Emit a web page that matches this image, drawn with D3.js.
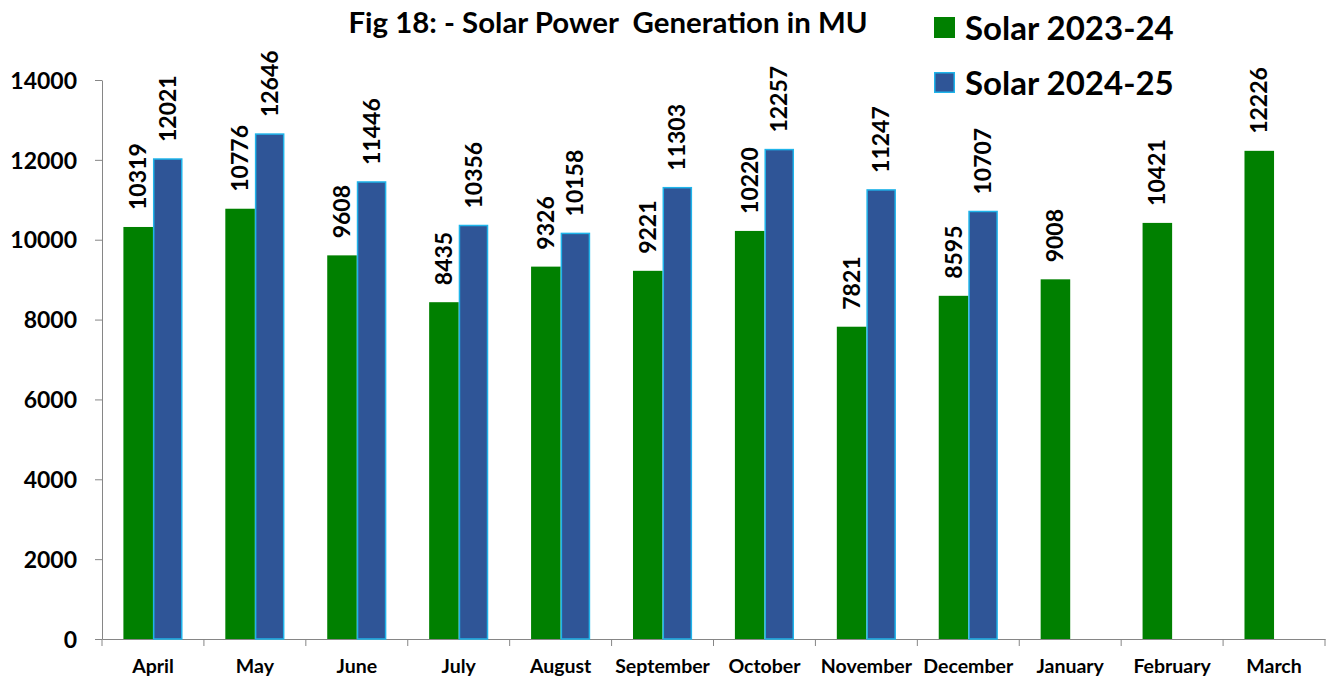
<!DOCTYPE html>
<html>
<head>
<meta charset="utf-8">
<script src="https://d3js.org/d3.v7.min.js"></script>
<style>
    body { margin: 0; background: #fff; }
    svg text { font-family: Lato, "Open Sans", sans-serif; font-weight: bold; fill: #000; }
    .axis path, .axis line { stroke: #868686; }
</style>
</head>
<body>
<svg id="chart" width="1338" height="679"></svg>
<script>
    var months = ["April", "May", "June", "July", "August", "September", "October",
        "November", "December", "January", "February", "March"]
    var solar2324 = [10319, 10776, 9608, 8435, 9326, 9221, 10220, 7821, 8595, 9008, 10421, 12226]
    var solar2425 = [12021, 12646, 11446, 10356, 10158, 11303, 12257, 11247, 10707, null, null, null]
    var seriesNames = ["Solar 2023-24", "Solar 2024-25"]
    var yTicks = [0, 2000, 4000, 6000, 8000, 10000, 12000, 14000]

    var colors = { "Solar 2023-24": "#008000", "Solar 2024-25": "#2f5597" }
    var strokes = { "Solar 2023-24": "none", "Solar 2024-25": "#1fb4ea" }

    var svg = d3.select("#chart")
    var plotLeft = 102, plotRight = 1325, plotTop = 80, plotBottom = 639

    var x = d3.scaleBand().domain(months).range([plotLeft, plotRight])
    var y = d3.scaleLinear().domain([0, 14000]).range([plotBottom, plotTop])
    var groupW = x.bandwidth() * 0.58
    var xs = d3.scaleBand().domain(seriesNames).range([-groupW / 2, groupW / 2])

    // axes
    var yAxis = svg.append("g").attr("class", "axis")
        .attr("transform", "translate(" + plotLeft + ",0)")
        .call(d3.axisLeft(y).tickValues(yTicks).tickFormat(d3.format("d")).tickSize(7).tickSizeOuter(0).tickPadding(18))
    yAxis.selectAll("text").style("font-size", "23px").attr("dy", "0.36em")

    var xAxis = svg.append("g").attr("class", "axis")
        .attr("transform", "translate(0," + plotBottom + ")")
        .call(d3.axisBottom(x).tickSize(0).tickSizeOuter(0))
    xAxis.selectAll("text").style("font-size", "19.5px").attr("y", 34).attr("dy", 0)
    // boundary ticks between categories
    xAxis.selectAll(".bound").data(months.concat([null])).enter().append("line")
        .attr("class", "bound")
        .attr("x1", (d, i) => plotLeft + i * x.step())
        .attr("x2", (d, i) => plotLeft + i * x.step())
        .attr("y1", 0).attr("y2", 7)

    var rows = months.map((m, i) => ({ month: m, values: [
        { key: seriesNames[0], value: solar2324[i] },
        { key: seriesNames[1], value: solar2425[i] }
    ]}))

    var groups = svg.selectAll(".grp").data(rows).enter().append("g")
        .attr("class", "grp")
        .attr("transform", d => "translate(" + (x(d.month) + x.bandwidth() / 2) + ",0)")

    var bars = groups.selectAll("g").data(d => d.values.filter(v => v.value != null))
        .enter().append("g")

    bars.append("rect")
        .attr("x", d => xs(d.key) + (d.key == seriesNames[1] ? 0.75 : 0))
        .attr("width", d => xs.bandwidth() - (d.key == seriesNames[1] ? 1.5 : 0))
        .attr("y", d => y(d.value))
        .attr("height", d => plotBottom - y(d.value))
        .attr("fill", d => colors[d.key])
        .attr("stroke", d => strokes[d.key])
        .attr("stroke-width", 1.5)

    bars.append("text")
        .attr("transform", d => "translate(" + (xs(d.key) + xs.bandwidth() / 2) + "," + (y(d.value) - 17) + ") rotate(-90)")
        .attr("dy", "0.35em")
        .style("font-size", "23px")
        .text(d => d.value)

    // title
    svg.append("text")
        .attr("x", 608).attr("y", 33)
        .attr("text-anchor", "middle")
        .style("font-size", "29.4px")
        .style("white-space", "pre")
        .text("Fig 18: - Solar Power  Generation in MU")

    // legend
    var legend = svg.selectAll(".leg").data(seriesNames).enter().append("g")
        .attr("class", "leg")
        .attr("transform", (d, i) => "translate(934," + (17 + i * 55) + ")")
    legend.append("rect")
        .attr("x", d => d == seriesNames[1] ? 0.75 : 0)
        .attr("y", d => d == seriesNames[1] ? 0.75 : 0)
        .attr("width", d => d == seriesNames[1] ? 19.5 : 21)
        .attr("height", d => d == seriesNames[1] ? 19.5 : 21)
        .attr("fill", d => colors[d])
        .attr("stroke", d => strokes[d])
        .attr("stroke-width", 1.5)
    legend.append("text")
        .attr("x", 31).attr("y", 23)
        .style("font-size", "33px")
        .text(d => d)
</script>
</body>
</html>
